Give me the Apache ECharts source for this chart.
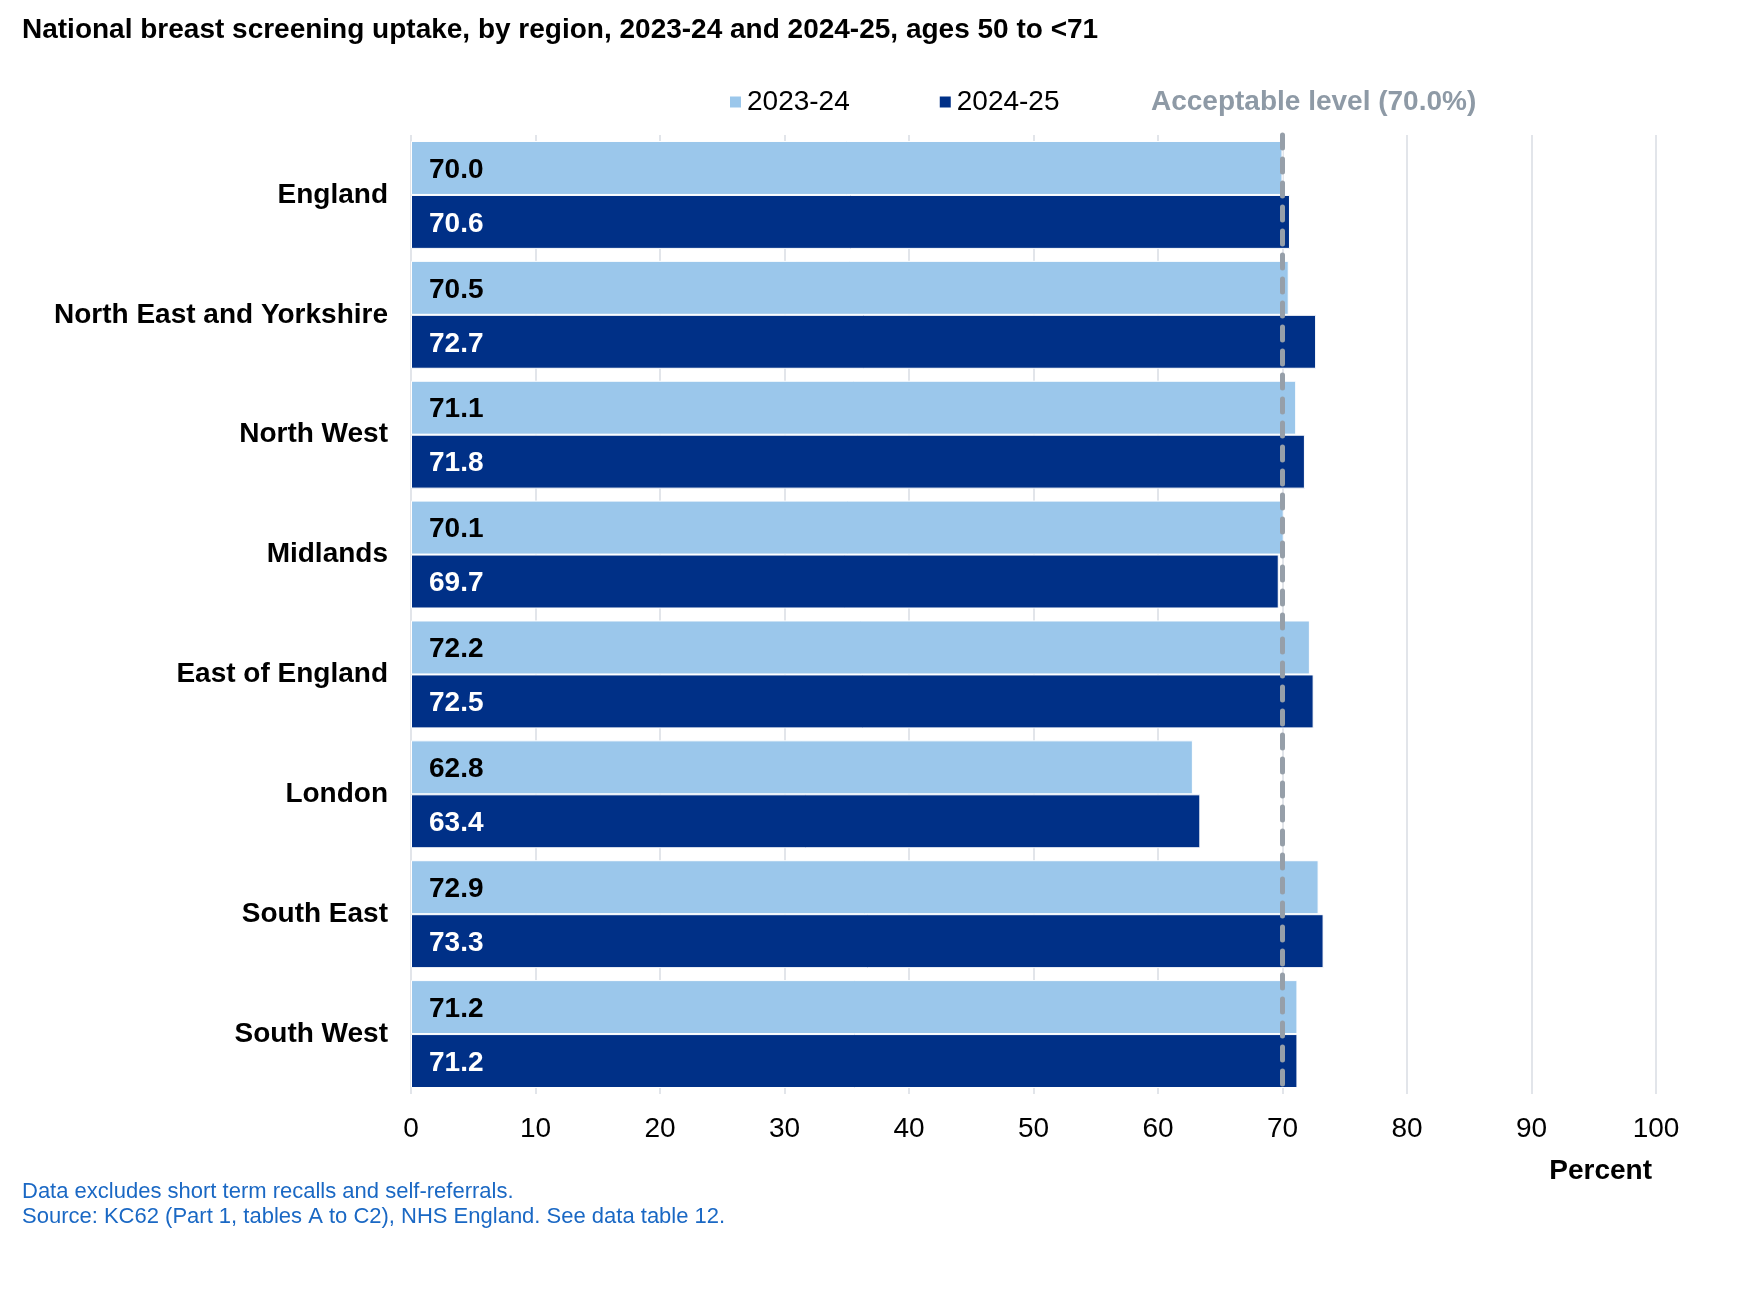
<!DOCTYPE html>
<html>
<head>
<meta charset="utf-8">
<script src="https://cdn.jsdelivr.net/npm/echarts@6/dist/echarts.min.js"></script>
<style>
  html, body { margin: 0; padding: 0; background: #fff; }
  #chart { width: 1758px; height: 1300px; }
</style>
</head>
<body>
<div id="chart"></div>
<script>
const regions = [
  "England",
  "North East and Yorkshire",
  "North West",
  "Midlands",
  "East of England",
  "London",
  "South East",
  "South West",
];
const uptake2324 = [70.0, 70.5, 71.1, 70.1, 72.2, 62.8, 72.9, 71.2];
const uptake2425 = [70.6, 72.7, 71.8, 69.7, 72.5, 63.4, 73.3, 71.2];
const acceptableLevel = 70;
const xTicks = { min: 0, max: 100, interval: 10 };

const FONT = "'Liberation Sans', Arial, sans-serif";

const chart = echarts.init(document.getElementById("chart"));

const labelStyle = (color) => ({
  show: true,
  position: "insideLeft",
  distance: 18,
  offset: [0, 2],
  color,
  fontFamily: FONT,
  fontSize: 28,
  fontWeight: "bold",
  formatter: (p) => p.value.toFixed(1),
});

const option = {
  animation: false,
  textStyle: { fontFamily: FONT },
  title: {
    text: "National breast screening uptake, by region, 2023-24 and 2024-25, ages 50 to <71",
    left: 22,
    top: 16,
    padding: 0,
    textStyle: { fontFamily: FONT, fontSize: 28, fontWeight: "bold", color: "#000" },
  },
  legend: {
    data: ["2023-24", "2024-25"],
    left: 728,
    top: 88,
    padding: 0,
    itemWidth: 13,
    itemHeight: 13,
    itemGap: 88,
    icon: "rect",
    textStyle: { fontFamily: FONT, fontSize: 28, color: "#000" },
  },
  grid: { left: 411, right: 102, top: 135, bottom: 206 },
  xAxis: {
    type: "value",
    min: xTicks.min,
    max: xTicks.max,
    interval: xTicks.interval,
    axisLine: { show: false },
    axisTick: { show: false },
    splitLine: { lineStyle: { color: "#d9dde3", width: 1.5 } },
    axisLabel: { color: "#000", fontSize: 28, fontFamily: FONT, margin: 21 },
  },
  yAxis: {
    type: "category",
    inverse: true,
    data: regions,
    axisLine: { show: false },
    axisTick: { show: false },
    axisLabel: { color: "#000", fontSize: 28, fontWeight: "bold", fontFamily: FONT, margin: 23 },
  },
  series: [
    {
      name: "2023-24",
      type: "bar",
      data: uptake2324,
      barGap: "0%",
      barCategoryGap: "10%",
      itemStyle: { color: "#9bc7eb", borderColor: "#fff", borderWidth: 1 },
      label: labelStyle("#000"),
    },
    {
      name: "2024-25",
      type: "bar",
      data: uptake2425,
      itemStyle: { color: "#003087", borderColor: "#fff", borderWidth: 1 },
      label: labelStyle("#fff"),
      markLine: {
        silent: true,
        symbol: ["none", "none"],
        z: 10,
        label: { show: false },
        lineStyle: { color: "#969fa9", width: 5, type: [13, 11], cap: "round" },
        data: [{ xAxis: acceptableLevel }],
      },
    },
  ],
  graphic: [
    {
      type: "text",
      left: 1151,
      top: 88,
      style: {
        text: "Acceptable level (70.0%)",
        font: "bold 28px " + FONT,
        fill: "#8e9aa6",
      },
    },
    {
      type: "text",
      right: 106,
      top: 1157,
      style: { text: "Percent", font: "bold 28px " + FONT, fill: "#000" },
    },
    {
      type: "text",
      left: 22,
      top: 1179,
      style: {
        text: "Data excludes short term recalls and self-referrals.\nSource: KC62 (Part 1, tables A to C2), NHS England. See data table 12.",
        font: "22px " + FONT,
        lineHeight: 25,
        fill: "#1a68c4",
      },
    },
  ],
};

chart.setOption(option);
window.addEventListener("resize", () => chart.resize());
</script>
</body>
</html>
